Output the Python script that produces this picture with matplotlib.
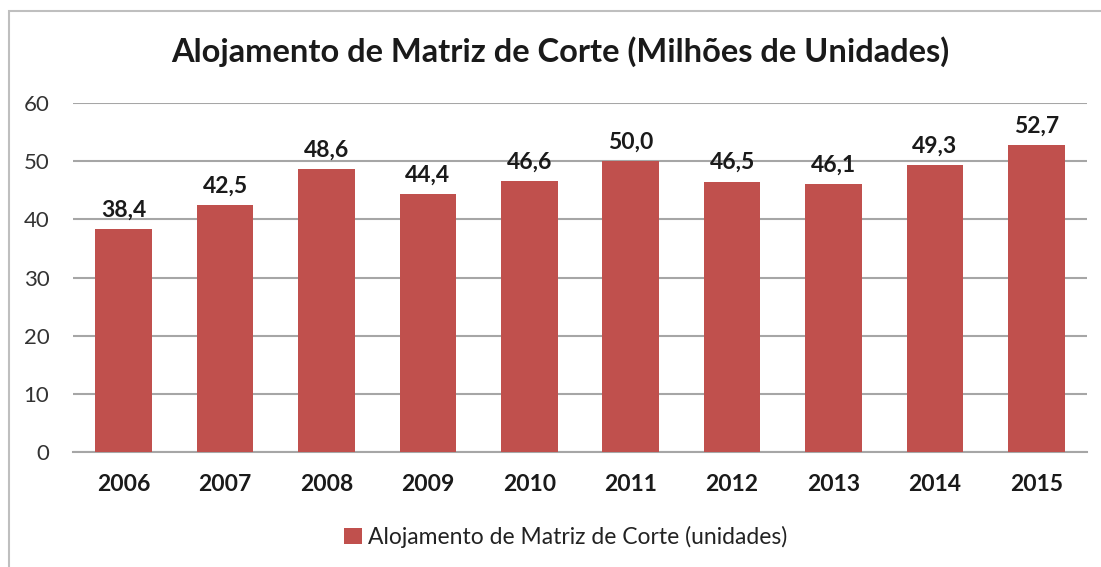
import matplotlib
matplotlib.use('Agg')
import matplotlib.pyplot as plt
import numpy as np

anos = ['2006', '2007', '2008', '2009', '2010', '2011', '2012', '2013', '2014', '2015']
valores = [38.4, 42.5, 48.6, 44.4, 46.6, 50.0, 46.5, 46.1, 49.3, 52.7]
titulo = 'Alojamento de Matriz de Corte (Milhões de Unidades)'
legenda = 'Alojamento de Matriz de Corte (unidades)'

plt.rcParams['font.family'] = ['Lato', 'DejaVu Sans']
W, H = 1101, 567
fig = plt.figure(figsize=(W / 100, H / 100), dpi=100)

# moldura cinza do gráfico (sai pela direita e por baixo)
fig.add_artist(plt.Rectangle((9 / W, -0.05), 1.2, 1 - 11 / H + 0.05, transform=fig.transFigure,
                             fill=False, edgecolor='#BFBFBF', linewidth=1.5))

ax = fig.add_axes([73 / W, 1 - 452 / H, (1087 - 73) / W, (452 - 103) / H])
x = np.arange(len(anos))
bars = ax.bar(x, valores, width=0.56, color='#C0504D', zorder=3, label=legenda)
ax.set_xlim(-0.5, len(anos) - 0.5)
ax.set_ylim(0, 60)
ax.set_yticks(range(0, 61, 10))
ax.set_xticks(x)
ax.set_xticklabels(anos, fontsize=16.5, fontweight='bold', color='#1a1a1a')
ax.tick_params(axis='y', labelsize=16, colors='#333333', length=0, pad=17)
ax.tick_params(axis='x', length=0, pad=16)
ax.grid(axis='y', color='#A6A6A6', linewidth=1.5, zorder=0)
for s in ['top', 'right', 'left']:
    ax.spines[s].set_visible(False)
ax.spines['bottom'].set_color('#A6A6A6')
ax.spines['bottom'].set_linewidth(1.5)

for b, v in zip(bars, valores):
    ax.annotate(f'{v:.1f}'.replace('.', ','), (b.get_x() + b.get_width() / 2, v),
                xytext=(0, 6), textcoords='offset points', ha='center', va='bottom',
                fontsize=16.5, fontweight='bold', color='#1a1a1a')

fig.text(560 / W, 1 - 52 / H, titulo, ha='center', va='center', fontsize=23.5, fontweight='bold',
         color='#1a1a1a')
fig.legend(loc='center', bbox_to_anchor=(566 / W, 1 - 537 / H), frameon=False, fontsize=16.5,
           handlelength=0.75, handleheight=0.75, handletextpad=0.3, labelcolor='#222222')

fig.savefig('out.png', dpi=100)
